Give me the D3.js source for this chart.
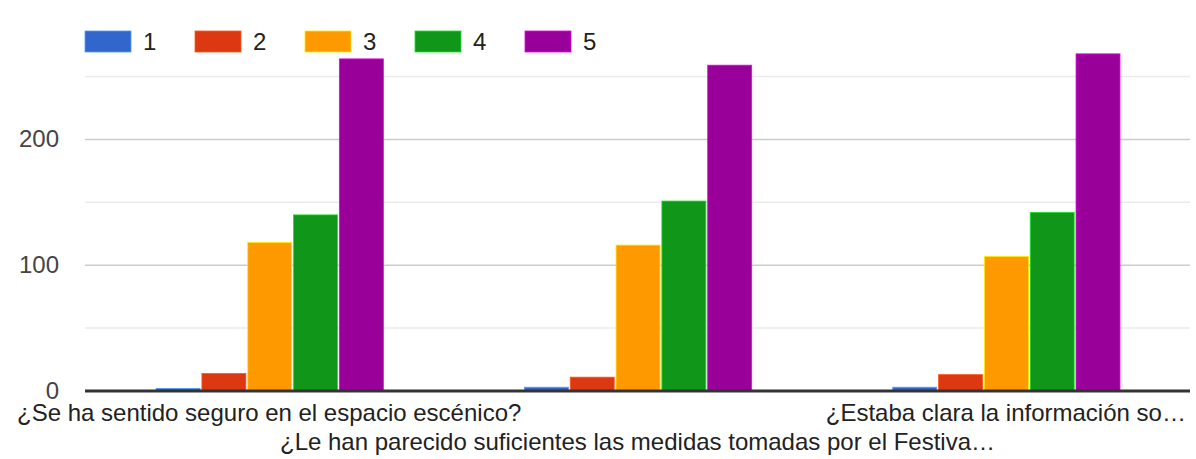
<!DOCTYPE html>
<html>
<head>
<meta charset="utf-8">
<script src="https://cdn.jsdelivr.net/npm/d3@7"></script>
<style>
  body { margin: 0; background: #fff; }
  text { font-family: "Liberation Sans", Arial, sans-serif; }
</style>
</head>
<body>
<div id="chart"></div>
<script>
// data
const questions = [
  "¿Se ha sentido seguro en el espacio escénico?",
  "¿Le han parecido suficientes las medidas tomadas por el Festiva…",
  "¿Estaba clara la información so…"
];
const ratings = ["1", "2", "3", "4", "5"];
const colors = ["#3366cc", "#dc3912", "#ff9900", "#109618", "#990099"];
const counts1 = [2, 14, 118, 140, 264];
const counts2 = [3, 11, 116, 151, 259];
const counts3 = [3, 13, 107, 142, 268];
const seriesValues = [counts1, counts2, counts3];
const yTicks = [0, 100, 200];
const yGrid = [50, 150, 250];

const width = 1196, height = 459;
const left = 85, right = 1190;
const baseY = 391;

const svg = d3.select("#chart").append("svg")
  .attr("width", width)
  .attr("height", height);

const x0 = d3.scaleBand()
  .domain(questions)
  .range([left, right]);

const x1 = d3.scaleBand()
  .domain(ratings)
  .range([x0.bandwidth() * 0.193, x0.bandwidth() * 0.81])
  .paddingInner(0.04);

const y = d3.scaleLinear()
  .domain([0, 250])
  .range([baseY, baseY - 250 * 1.258]);

// minor gridlines
svg.append("g").selectAll("line")
  .data(yGrid)
  .join("line")
  .attr("x1", left).attr("x2", right)
  .attr("y1", d => y(d)).attr("y2", d => y(d))
  .attr("stroke", "#ebebeb").attr("stroke-width", 1.5);

// major gridlines
svg.append("g").selectAll("line")
  .data(yTicks.filter(d => d > 0))
  .join("line")
  .attr("x1", left).attr("x2", right)
  .attr("y1", d => y(d)).attr("y2", d => y(d))
  .attr("stroke", "#cccccc").attr("stroke-width", 1.5);

// y labels
svg.append("g").selectAll("text")
  .data(yTicks)
  .join("text")
  .attr("x", 59)
  .attr("y", d => y(d) + 8)
  .attr("text-anchor", "end")
  .attr("font-size", 24)
  .attr("fill", "#444")
  .text(d => d);

// bars
const groups = svg.append("g").selectAll("g")
  .data(questions)
  .join("g")
  .attr("transform", q => `translate(${x0(q)},0)`);

groups.selectAll("rect")
  .data((q, i) => seriesValues[i].map((v, j) => ({ r: ratings[j], v: v, c: colors[j] })))
  .join("rect")
  .attr("x", d => x1(d.r))
  .attr("width", x1.bandwidth())
  .attr("y", d => y(d.v))
  .attr("height", d => baseY - y(d.v))
  .attr("fill", d => d.c)
  .attr("stroke", d => d3.color(d.c).brighter(1.2))
  .attr("stroke-width", 0.8);

// baseline
svg.append("line")
  .attr("x1", left).attr("x2", right)
  .attr("y1", baseY).attr("y2", baseY)
  .attr("stroke", "#333").attr("stroke-width", 3);

// x labels, alternating rows
svg.append("g").selectAll("text")
  .data(questions)
  .join("text")
  .attr("x", q => x0(q) + x0.bandwidth() / 2)
  .attr("y", (q, i) => i % 2 === 0 ? 421 : 450)
  .attr("text-anchor", "middle")
  .attr("font-size", 24)
  .attr("fill", "#222")
  .text(q => q);

// legend
const legend = svg.append("g").selectAll("g")
  .data(ratings)
  .join("g")
  .attr("transform", (d, i) => `translate(${85 + i * 110},31)`);

legend.append("rect")
  .attr("width", 46).attr("height", 21)
  .attr("fill", (d, i) => colors[i])
  .attr("stroke", (d, i) => d3.color(colors[i]).brighter(1.2))
  .attr("stroke-width", 0.8);

legend.append("text")
  .attr("x", 58)
  .attr("y", 19)
  .attr("font-size", 24)
  .attr("fill", "#222")
  .text(d => d);
</script>
</body>
</html>
